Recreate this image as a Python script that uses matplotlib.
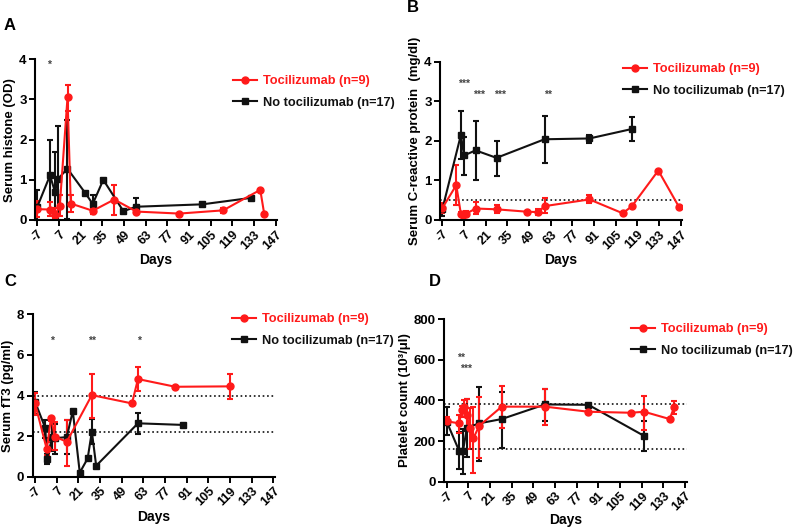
import matplotlib
matplotlib.use('Agg')
import matplotlib.pyplot as plt
from matplotlib.lines import Line2D
import numpy as np

plt.rcParams['font.family'] = ['Liberation Sans', 'DejaVu Sans']
plt.rcParams['font.weight'] = 'bold'
plt.rcParams['axes.labelweight'] = 'bold'

RED = '#ff1a1a'
BLACK = '#111111'

day_ticks = np.arange(-7, 148, 14)

# Panel A: serum histone (OD)
a_tcz_day = [-7, 1.5, 4.4, 7.5, 12.5, 14.6, 28.8, 42.7, 57, 84.7, 113, 137, 139.6]
a_tcz_mean = [0.27, 0.26, 0.12, 0.35, 3.05, 0.41, 0.23, 0.51, 0.21, 0.16, 0.24, 0.75, 0.14]
a_tcz_lo = [0.08, 0.10, 0.05, 0.10, 2.72, 0.20, 0.14, 0.13, 0.15, 0.16, 0.17, 0.75, 0.14]
a_tcz_hi = [0.47, 0.44, 0.30, 0.62, 3.35, 0.63, 0.31, 0.88, 0.27, 0.16, 0.31, 0.75, 0.14]
a_ctl_day = [-7, 1.2, 4.4, 6.6, 12.4, 23.8, 28.8, 35.6, 48.6, 56.8, 99.6, 130.9]
a_ctl_mean = [0.33, 1.11, 0.70, 1.03, 1.28, 0.68, 0.40, 1.00, 0.22, 0.33, 0.39, 0.55]
a_ctl_lo = [0.0, 0.22, 0.0, 0.0, 0.03, 0.68, 0.15, 1.00, 0.22, 0.17, 0.39, 0.55]
a_ctl_hi = [0.75, 2.00, 1.70, 2.35, 2.50, 0.68, 0.62, 1.00, 0.22, 0.55, 0.39, 0.55]

# Panel B: serum CRP (mg/dl)
b_tcz_day = [-7, 2, 5, 6.6, 8, 14.5, 28, 47.5, 55, 59, 88, 109.5, 115.5, 132.5, 146]
b_tcz_mean = [0.30, 0.88, 0.15, 0.12, 0.15, 0.29, 0.27, 0.21, 0.20, 0.35, 0.52, 0.17, 0.35, 1.25, 0.32]
b_tcz_lo = [0.17, 0.38, 0.10, 0.08, 0.09, 0.14, 0.17, 0.21, 0.12, 0.17, 0.42, 0.17, 0.35, 1.25, 0.32]
b_tcz_hi = [0.43, 1.38, 0.20, 0.18, 0.22, 0.45, 0.37, 0.21, 0.28, 0.55, 0.62, 0.17, 0.35, 1.25, 0.32]
b_ctl_day = [-7, 5, 7, 14.5, 28, 59, 88, 115.5]
b_ctl_mean = [0.27, 2.15, 1.63, 1.76, 1.57, 2.04, 2.06, 2.30]
b_ctl_lo = [0.10, 1.55, 1.13, 1.00, 1.12, 1.45, 1.95, 2.00]
b_ctl_hi = [0.40, 2.75, 2.10, 2.50, 2.00, 2.63, 2.16, 2.60]

# Panel C: serum fT3 (pg/ml)
c_tcz_day = [-7, 0.6, 3.3, 5.9, 13.5, 29.7, 55.6, 59.5, 83.6, 118.7]
c_tcz_mean = [3.61, 1.35, 2.90, 1.97, 1.72, 4.02, 3.61, 4.81, 4.43, 4.45]
c_tcz_lo = [3.05, 1.05, 2.75, 1.30, 0.55, 2.90, 3.61, 4.20, 4.43, 3.85]
c_tcz_hi = [4.10, 1.70, 2.95, 2.70, 2.80, 5.05, 3.61, 5.40, 4.43, 5.05]
c_ctl_day = [-7, -0.3, 0.6, 4.2, 6.2, 13.5, 17.4, 21.9, 27, 29.7, 32.5, 59.5, 88.8]
c_ctl_mean = [3.70, 2.38, 0.85, 1.97, 1.90, 1.95, 3.24, 0.20, 0.90, 2.22, 0.54, 2.63, 2.55]
c_ctl_lo = [3.10, 1.90, 0.65, 1.25, 1.10, 1.10, 3.24, 0.20, 0.90, 1.60, 0.54, 2.10, 2.55]
c_ctl_hi = [4.15, 2.80, 1.10, 2.75, 2.60, 2.80, 3.24, 0.20, 0.90, 2.85, 0.54, 3.15, 2.55]

# Panel D: platelet count (10^3/ul)
d_tcz_day = [-7, 1, 2.7, 4.2, 5.9, 8, 10.2, 14, 28.5, 56.5, 84.5, 112, 120.5, 137, 140]
d_tcz_mean = [297, 287, 352, 369, 328, 262, 213, 275, 369, 369, 344, 339, 344, 308, 369]
d_tcz_lo = [280, 240, 320, 340, 250, 160, 45, 115, 265, 280, 344, 339, 255, 308, 335]
d_tcz_hi = [320, 330, 370, 400, 405, 360, 365, 415, 470, 455, 344, 339, 420, 308, 395]
d_ctl_day = [-7, 1, 3.5, 6, 14, 28.5, 56.5, 84.5, 120.5]
d_ctl_mean = [295, 152, 150, 265, 287, 308, 380, 378, 225]
d_ctl_lo = [230, 60, 40, 120, 100, 165, 300, 378, 150]
d_ctl_hi = [365, 245, 260, 405, 465, 440, 455, 378, 300]

W, H = 800, 530
fig = plt.figure(figsize=(W / 100, H / 100), dpi=100)


def add_axes_px(left, bottom, width, height):
    return fig.add_axes([left / W, (H - bottom) / H, width / W, height / H])


def draw_series(ax, day, mean, lo, hi, color, marker):
    mean = np.array(mean)
    yerr = [mean - np.array(lo), np.array(hi) - mean]
    ax.errorbar(day, mean, yerr=yerr, color=color, marker=marker, ms=5,
                lw=1.5, elinewidth=1.5, capsize=2.5, capthick=1.5)


def style_axes(ax, ylim, yticks, ylabel):
    ax.set_xlim(-8.5, 148)
    ax.set_ylim(*ylim)
    ax.set_xticks(day_ticks)
    ax.set_xticklabels([str(d) for d in day_ticks], rotation=45, ha='right',
                       rotation_mode='anchor', fontsize=9)
    ax.set_yticks(yticks)
    ax.tick_params(axis='y', labelsize=9.5, pad=2)
    ax.tick_params(axis='x', pad=2)
    ax.tick_params(width=1.4, length=4, direction='out')
    for s in ['top', 'right']:
        ax.spines[s].set_visible(False)
    for s in ['left', 'bottom']:
        ax.spines[s].set_linewidth(1.5)
    ax.set_xlabel('Days', fontsize=10, labelpad=1)
    ax.set_ylabel(ylabel, fontsize=9.5, labelpad=2)


def stars(ax, items):
    for x, y, s in items:
        ax.text(x, y, s, ha='center', va='center', fontsize=7.5, color='#444444')


legend_handles = [
    Line2D([], [], color=RED, marker='o', ms=5, lw=1.5),
    Line2D([], [], color=BLACK, marker='s', ms=5, lw=1.5),
]
legend_labels = ['Tocilizumab (n=9)', 'No tocilizumab (n=17)']


def add_legend(ax, x_px, y_px):
    ax.legend(legend_handles, legend_labels, loc='upper left',
              bbox_to_anchor=(x_px / W, (H - y_px) / H),
              bbox_transform=fig.transFigure, frameon=False, fontsize=9.2,
              handlelength=1.9, handletextpad=0.45, labelspacing=0.75,
              labelcolor=[RED, BLACK], borderpad=0, borderaxespad=0)


# A
axA = add_axes_px(35, 220, 242.3, 160.7)
draw_series(axA, a_ctl_day, a_ctl_mean, a_ctl_lo, a_ctl_hi, BLACK, 's')
draw_series(axA, a_tcz_day, a_tcz_mean, a_tcz_lo, a_tcz_hi, RED, 'o')
style_axes(axA, (0, 4), [0, 1, 2, 3, 4], 'Serum histone (OD)')
stars(axA, [(0.5, 3.85, '*')])
add_legend(axA, 233, 75)

# B
axB = add_axes_px(440, 220, 242.3, 158.3)
draw_series(axB, b_ctl_day, b_ctl_mean, b_ctl_lo, b_ctl_hi, BLACK, 's')
draw_series(axB, b_tcz_day, b_tcz_mean, b_tcz_lo, b_tcz_hi, RED, 'o')
axB.axhline(0.5, color=BLACK, ls=':', lw=1.2)
style_axes(axB, (0, 4), [0, 1, 2, 3, 4], 'Serum C-reactive protein  (mg/dl)')
stars(axB, [(7, 3.45, '***'), (17, 3.15, '***'), (30, 3.15, '***'), (61, 3.15, '**')])
add_legend(axB, 623, 63)

# C
axC = add_axes_px(32.7, 476.7, 242.3, 162.4)
draw_series(axC, c_ctl_day, c_ctl_mean, c_ctl_lo, c_ctl_hi, BLACK, 's')
draw_series(axC, c_tcz_day, c_tcz_mean, c_tcz_lo, c_tcz_hi, RED, 'o')
axC.axhline(4.0, color=BLACK, ls=':', lw=1.2)
axC.axhline(2.2, color=BLACK, ls=':', lw=1.2)
style_axes(axC, (0, 8), [0, 2, 4, 6, 8], 'Serum fT3 (pg/ml)')
stars(axC, [(4, 6.7, '*'), (30, 6.7, '**'), (60, 6.7, '*')])
add_legend(axC, 232, 313)

# D
axD = add_axes_px(444.4, 481.7, 242.3, 162.7)
draw_series(axD, d_ctl_day, d_ctl_mean, d_ctl_lo, d_ctl_hi, BLACK, 's')
draw_series(axD, d_tcz_day, d_tcz_mean, d_tcz_lo, d_tcz_hi, RED, 'o')
axD.axhline(380, color=BLACK, ls=':', lw=1.2)
axD.axhline(160, color=BLACK, ls=':', lw=1.2)
style_axes(axD, (0, 800), [0, 200, 400, 600, 800], 'Platelet count (10³/μl)')
axD.xaxis.labelpad = 0
stars(axD, [(2, 610, '**'), (5.5, 555, '***')])
add_legend(axD, 631, 323)

for x, y, s in [(4, 25, 'A'), (407, 8, 'B'), (4, 282, 'C'), (429, 282, 'D')]:
    fig.text(x / W, (H - y) / H, s, fontsize=12, fontweight='bold', va='center')

fig.savefig('out.png', dpi=100)
